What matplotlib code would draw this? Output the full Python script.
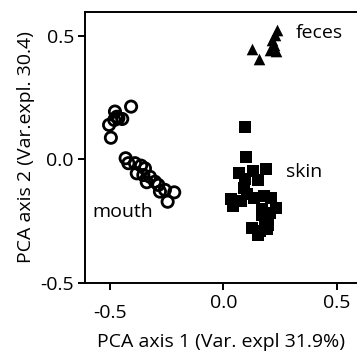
import matplotlib
matplotlib.use("Agg")
import matplotlib.pyplot as plt
import matplotlib.transforms as mtransforms

plt.rcParams['font.family'] = ['Open Sans', 'DejaVu Sans']

mouth_x = [-0.407, -0.478, -0.463, -0.446, -0.481, -0.470, -0.504, -0.496,
           -0.431, -0.419, -0.390, -0.363, -0.346, -0.382, -0.353, -0.324,
           -0.338, -0.302, -0.287, -0.258, -0.280, -0.217, -0.246]
mouth_y = [0.214, 0.194, 0.167, 0.164, 0.160, 0.173, 0.140, 0.088,
           0.005, -0.015, -0.015, -0.025, -0.036, -0.056, -0.063, -0.070,
           -0.092, -0.090, -0.103, -0.123, -0.130, -0.133, -0.171]

skin_x = [0.095, 0.099, 0.068, 0.131, 0.187, 0.093, 0.153, 0.090, 0.102,
          0.035, 0.077, 0.042, 0.134, 0.178, 0.209, 0.170, 0.205, 0.231,
          0.170, 0.183, 0.196, 0.126, 0.161, 0.192, 0.150]
skin_y = [0.132, 0.011, -0.053, -0.048, -0.040, -0.079, -0.083, -0.115, -0.140,
          -0.160, -0.168, -0.188, -0.154, -0.148, -0.157, -0.200, -0.215, -0.196,
          -0.225, -0.245, -0.265, -0.279, -0.289, -0.281, -0.306]

feces_x = [0.234, 0.227, 0.215, 0.224, 0.205, 0.230, 0.124, 0.156]
feces_y = [0.524, 0.504, 0.484, 0.464, 0.443, 0.440, 0.446, 0.406]

xticks = [-0.5, 0.0, 0.5]
yticks = [-0.5, 0.0, 0.5]
tick_labels = ["-0.5", "0.0", "0.5"]

fig = plt.figure(figsize=(3.57, 3.59), dpi=100)
ax = fig.add_axes([85/357, 76/359, 272/357, 271/359])

ax.scatter(mouth_x, mouth_y, s=66, facecolors='none', edgecolors='black', linewidths=2.0, marker='o')
ax.scatter(skin_x, skin_y, s=66, color='black', marker='s', linewidths=0)
ax.scatter(feces_x, feces_y, s=70, color='black', marker='^', linewidths=0)

ax.text(0.319, 0.512, "feces", fontsize=14, va='center', ha='left')
ax.text(0.275, -0.051, "skin", fontsize=14, va='center', ha='left')
ax.text(-0.579, -0.213, "mouth", fontsize=14, va='center', ha='left')

ax.set_xlim(-0.61, 0.588)
ax.set_ylim(-0.5, 0.597)
ax.set_xticks(xticks)
ax.set_xticklabels(tick_labels)
ax.set_yticks(yticks)
ax.set_yticklabels(tick_labels)
ax.spines['right'].set_visible(False)
for s in ['left', 'bottom', 'top']:
    ax.spines[s].set_linewidth(1.4)
ax.tick_params(direction='out', length=5, width=1.4, labelsize=14, pad=3)

# the -0.5 x tick label sits slightly lower in the reference
lab = ax.get_xticklabels()[0]
lab.set_transform(lab.get_transform() + mtransforms.ScaledTranslation(0, -10/100, fig.dpi_scale_trans))

ax.set_xlabel("PCA axis 1 (Var. expl 31.9%)", fontsize=14, labelpad=8)
ax.set_ylabel("PCA axis 2 (Var.expl. 30.4)", fontsize=14, labelpad=4)

fig.savefig("out.png", dpi=100)
